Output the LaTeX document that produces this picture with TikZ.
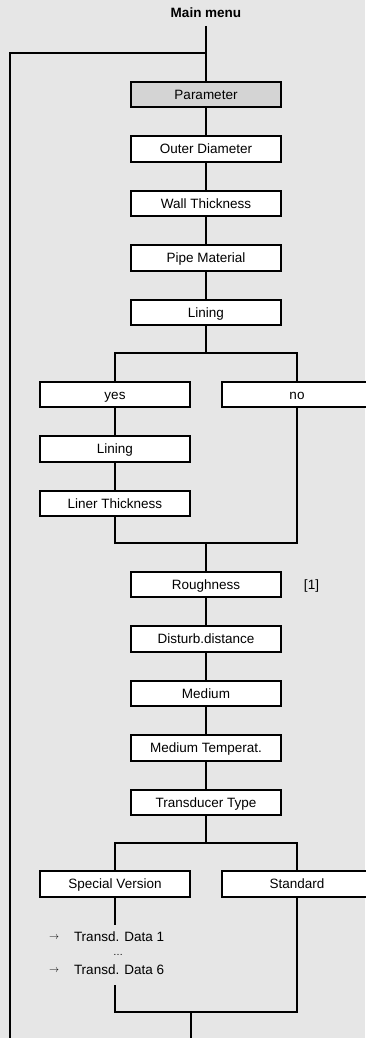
\documentclass[tikz,border=0pt]{standalone}
\usepackage{fontspec}
\setmainfont{Liberation Sans}
\definecolor{bg}{RGB}{230,230,230}
\definecolor{hdr}{RGB}{212,212,212}
\begin{document}
\begin{tikzpicture}[x=1pt,y=-1pt,line width=2pt,
  box/.style={draw,fill=white,minimum width=150pt,minimum height=25.5pt,inner sep=0pt,
    text height=9.7pt,text depth=0pt,font=\fontsize{13.5}{16}\selectfont},
  txt/.style={inner sep=0pt,text height=9.7pt,text depth=0pt,font=\fontsize{13.5}{16}\selectfont}]
\fill[bg] (0,0) rectangle (365,1038);
\useasboundingbox (0,0) rectangle (365,1038);
\node[txt,font=\fontsize{13.5}{16}\selectfont\bfseries] (mm) at (206,13) {Main menu};
\coordinate (top) at (206,26);
\coordinate (loop) at (206,53.5);
\coordinate (lb) at (10,1045);
\node[box,fill=hdr] (par) at (206,94.5) {Parameter};
\node[box] (od) at (206,149) {Outer Diameter};
\node[box] (wt) at (206,203.5) {Wall Thickness};
\node[box] (pm) at (206,258) {Pipe Material};
\node[box] (li) at (206,312.5) {Lining};
\coordinate (b1) at (206,353);
\node[box] (yes) at (115,394.5) {yes};
\node[box] (no) at (297,394.5) {no};
\node[box] (li2) at (115,449) {Lining};
\node[box] (lt) at (115,503.5) {Liner Thickness};
\coordinate (m1) at (206,543);
\node[box] (ro) at (206,584.5) {Roughness};
\node[txt] (n1) at (311.5,584.5) {[1]};
\node[box] (dd) at (206,639) {Disturb.distance};
\node[box] (me) at (206,693.5) {Medium};
\node[box] (mt) at (206,748) {Medium Temperat.};
\node[box] (tt) at (206,802.5) {Transducer Type};
\coordinate (b2) at (206,843);
\node[box] (sv) at (115,884) {Special Version};
\node[box] (st) at (297,884) {Standard};
\coordinate (sva) at (115,925);
\coordinate (svb) at (115,985);
\node[txt,anchor=west] (d1) at (73,937) {Transd. Data 1};
\node[inner sep=0pt,anchor=east,font=\fontsize{10}{12}\selectfont] (a1) at (60,937.5) {$\rightarrow$};
\node[inner sep=0pt,font=\fontsize{10}{12}\selectfont] (dots) at (118,955) {\ldots};
\node[txt,anchor=west] (d6) at (73,970) {Transd. Data 6};
\node[inner sep=0pt,anchor=east,font=\fontsize{10}{12}\selectfont] (a6) at (60,970.5) {$\rightarrow$};
\coordinate (m2) at (206,1012);
\coordinate (bot) at (191,1045);
% connectors
\draw (top) -- (par.north);
\draw (loop) -| (lb);
\draw (par) -- (od);
\draw (od) -- (wt);
\draw (wt) -- (pm);
\draw (pm) -- (li);
\draw (li.south) -- (b1);
\draw (yes.north) |- (b1) -| (no.north);
\draw (yes) -- (li2);
\draw (li2) -- (lt);
\draw (lt.south) |- (m1);
\draw (no.south) |- (m1);
\draw (m1) -- (ro.north);
\draw (ro) -- (dd);
\draw (dd) -- (me);
\draw (me) -- (mt);
\draw (mt) -- (tt);
\draw (tt.south) -- (b2);
\draw (sv.north) |- (b2) -| (st.north);
\draw (sv.south) -- (sva);
\draw (svb) -- (115,1012) -- (m2);
\draw (st.south) |- (m2);
\draw (191,1012) -- (bot);
\end{tikzpicture}
\end{document}
